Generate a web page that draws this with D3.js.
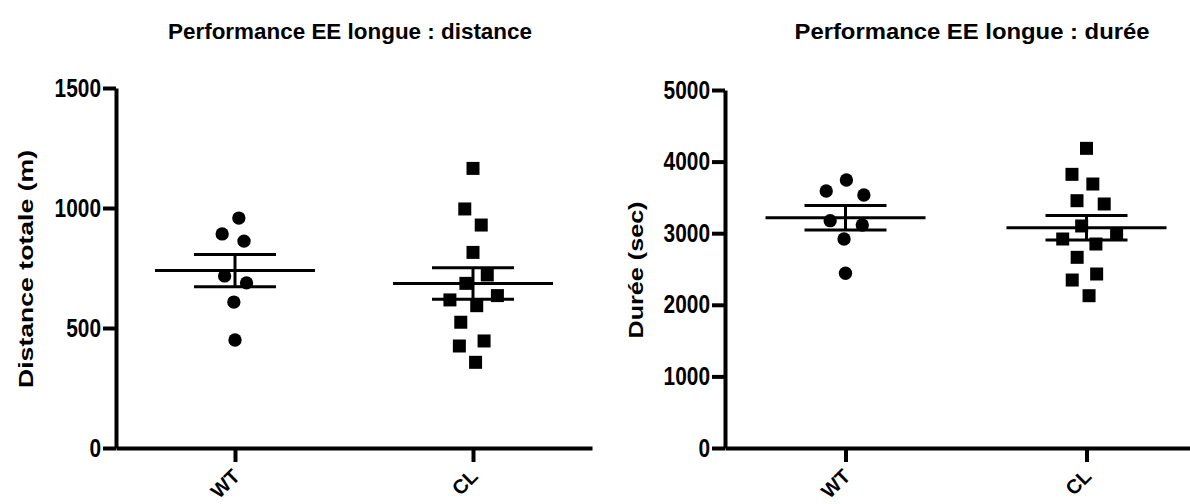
<!DOCTYPE html>
<html lang="fr">
<head>
<meta charset="utf-8">
<title>Performance EE longue</title>
<script src="https://cdn.jsdelivr.net/npm/d3@7"></script>
<style>
  body { margin: 0; background: #fff; }
  svg { display: block; font-family: "Liberation Sans", Arial, sans-serif; font-weight: bold; }
  .axis path, .axis line { stroke: #000; stroke-width: 4px; }
  .axis text { font-size: 25px; font-weight: bold; fill: #000; }
  .xaxis text { font-size: 20px; }
</style>
</head>
<body>
<div id="chart"></div>
<script>
// groups
var cats = ["WT", "CL"];

// distance totale (m)
var distWT = [958, 892, 862, 717, 688, 608, 450];
var distCL = [1165, 996, 929, 815, 721, 686, 635, 617, 593, 524, 446, 425, 357];
var distTicks = [0, 500, 1000, 1500];

// durée (sec)
var dureeWT = [3743, 3589, 3534, 3175, 3115, 2919, 2440];
var dureeCL = [4185, 3822, 3687, 3454, 3408, 3101, 2989, 2919, 2849, 2663, 2430, 2346, 2127];
var dureeTicks = [0, 1000, 2000, 3000, 4000, 5000];

var width = 1190, height = 504;

var svg = d3.select("#chart").append("svg")
    .attr("width", width)
    .attr("height", height);

var panels = [
  { title: "Performance EE longue : distance", titleX: 350, titleLen: 364,
    ylabel: "Distance totale (m)", labelX: 26, labelLen: 238,
    x0: 116, x1: 592, top: 88, bottom: 448,
    ticks: distTicks, groups: [distWT, distCL] },
  { title: "Performance EE longue : durée", titleX: 972, titleLen: 355,
    ylabel: "Durée (sec)", labelX: 636, labelLen: 137,
    x0: 725, x1: 1207, top: 90, bottom: 448,
    ticks: dureeTicks, groups: [dureeWT, dureeCL] }
];

// simple beeswarm: y fixed by value, collide pushes sideways
function swarm(values, cx, y) {
  var nodes = values.map(function(v, i) {
    return { v: v, x: cx + (i % 2 ? -0.5 : 0.5), y: y(v), fy: y(v) };
  });
  d3.forceSimulation(nodes)
    .force("x", d3.forceX(cx).strength(0.1))
    .force("collide", d3.forceCollide(11.5))
    .stop()
    .tick(300);
  return nodes;
}

panels.forEach(function(p) {
  var x = d3.scalePoint().domain(cats).range([p.x0, p.x1]).padding(0.5);
  var y = d3.scaleLinear().domain([0, d3.max(p.ticks)]).range([p.bottom, p.top]);

  var g = svg.append("g");

  g.append("text")
      .attr("x", p.titleX).attr("y", 39)
      .attr("text-anchor", "middle")
      .attr("font-size", 22)
      .attr("textLength", p.titleLen)
      .attr("lengthAdjust", "spacingAndGlyphs")
      .text(p.title);

  g.append("text")
      .attr("transform", "translate(" + p.labelX + "," + ((p.top + p.bottom) / 2 + 1) + ") rotate(-90)")
      .attr("text-anchor", "middle")
      .attr("dy", "0.35em")
      .attr("font-size", 21)
      .attr("textLength", p.labelLen)
      .attr("lengthAdjust", "spacingAndGlyphs")
      .text(p.ylabel);

  g.append("g")
      .attr("class", "axis xaxis")
      .attr("transform", "translate(0," + p.bottom + ")")
      .call(d3.axisBottom(x).tickSize(14).tickSizeOuter(0))
    .selectAll("text")
      .attr("x", 0).attr("y", 0)
      .attr("text-anchor", "end")
      .attr("dy", "0.75em")
      .attr("transform", "translate(-5,19) rotate(-45)");

  g.append("g")
      .attr("class", "axis")
      .attr("transform", "translate(" + p.x0 + ",0)")
      .call(d3.axisLeft(y).tickValues(p.ticks).tickSize(13).tickSizeOuter(0).tickPadding(2).tickFormat(d3.format("d")))
    .selectAll("text")
      .attr("textLength", function(d) { return String(d).length * 11.6; })
      .attr("lengthAdjust", "spacingAndGlyphs");

  p.groups.forEach(function(vals, i) {
    var cx = x(cats[i]);
    var nodes = swarm(vals, cx, y);
    var sym = d3.symbol().type(i === 0 ? d3.symbolCircle : d3.symbolSquare).size(i === 0 ? 140 : 169);

    g.append("g").selectAll("path")
        .data(nodes)
      .enter().append("path")
        .attr("d", sym)
        .attr("transform", function(d) { return "translate(" + d.x + "," + d.y + ")"; })
        .attr("fill", "#000");

    var m = d3.mean(vals);
    var sem = d3.deviation(vals) / Math.sqrt(vals.length);
    var lines = [
      [cx - 80, y(m), cx + 80, y(m)],
      [cx - 41, y(m + sem), cx + 41, y(m + sem)],
      [cx - 41, y(m - sem), cx + 41, y(m - sem)],
      [cx, y(m + sem), cx, y(m - sem)]
    ];
    g.append("g").selectAll("line")
        .data(lines)
      .enter().append("line")
        .attr("x1", function(d) { return d[0]; })
        .attr("y1", function(d) { return d[1]; })
        .attr("x2", function(d) { return d[2]; })
        .attr("y2", function(d) { return d[3]; })
        .attr("stroke", "#000")
        .attr("stroke-width", 3);
  });
});
</script>
</body>
</html>
